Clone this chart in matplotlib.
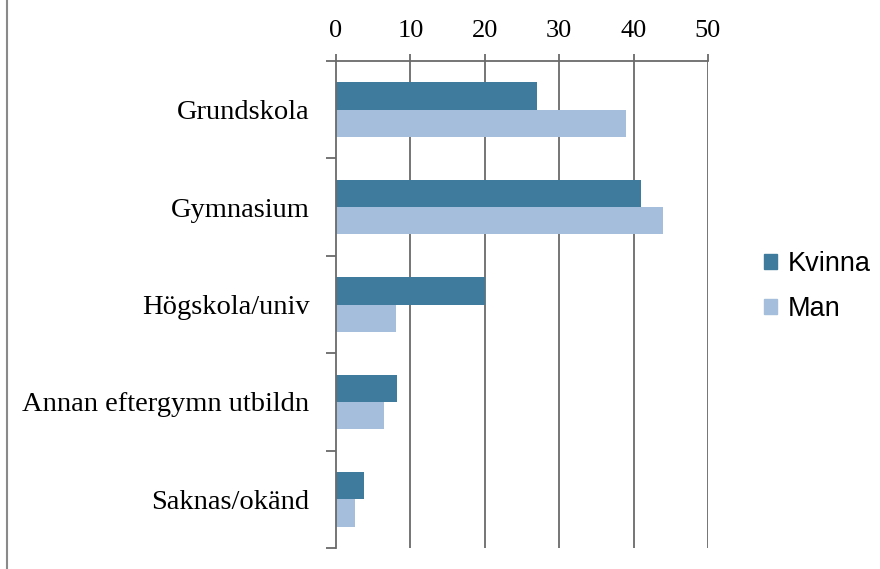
import numpy as np
import matplotlib.pyplot as plt
from matplotlib.patches import Patch
from matplotlib.lines import Line2D

# data
categories = ["Grundskola", "Gymnasium", "Högskola/univ",
              "Annan eftergymn utbildn", "Saknas/okänd"]
kvinna = [27, 41, 20, 8.2, 3.8]
man = [39, 44, 8, 6.5, 2.6]
x_ticks = [0, 10, 20, 30, 40, 50]

col_kvinna = "#3f7b9c"
col_man = "#a4bedb"
line_col = "#6a6a6a"

fig = plt.figure(figsize=(8.8, 5.69), dpi=100)
ax = fig.add_axes([0.3818, 0.0369, 0.4227, 0.8559])

y = np.arange(len(categories))
h = 0.28
ax.barh(y - h / 2, kvinna, height=h, color=col_kvinna, label="Kvinna")
ax.barh(y + h / 2, man, height=h, color=col_man, label="Man")

ax.set_xlim(0, 50)
ax.set_ylim(len(categories) - 0.5, -0.5)

# x axis on top
ax.xaxis.tick_top()
ax.set_xticks(x_ticks)
ax.set_xticklabels([str(t) for t in x_ticks], family="Liberation Serif", fontsize=19)
ax.tick_params(axis="x", direction="out", length=5, width=1.3, color=line_col, pad=9)
for t in x_ticks[1:]:
    ax.axvline(t, color=line_col, lw=1.3, zorder=0)

# y ticks between categories, labels at centers
ax.set_yticks(np.arange(-0.5, len(categories), 1.0))
ax.set_yticklabels([])
ax.set_yticks(y, minor=True)
ax.set_yticklabels(categories, minor=True, family="Liberation Serif", fontsize=20.5)
ax.tick_params(axis="y", which="major", direction="out", length=7, width=1.3, color=line_col)
ax.tick_params(axis="y", which="minor", length=0, pad=19)

for s in ["right", "bottom"]:
    ax.spines[s].set_visible(False)
for s in ["top", "left"]:
    ax.spines[s].set_color(line_col)
    ax.spines[s].set_linewidth(1.3)

# legend
handles = [Patch(color=col_kvinna), Patch(color=col_man)]
fig.legend(handles, ["Kvinna", "Man"], loc="center left",
           bbox_to_anchor=(0.841, 0.496), frameon=False,
           prop={"family": "Liberation Sans", "size": 19.5},
           handlelength=0.45, handleheight=0.45, handletextpad=0.4,
           labelspacing=0.7)

# page border on the left
fig.add_artist(Line2D([0.008, 0.008], [0, 1], color="#8a8a8a", lw=1.5))

fig.savefig("out.png", dpi=100)
